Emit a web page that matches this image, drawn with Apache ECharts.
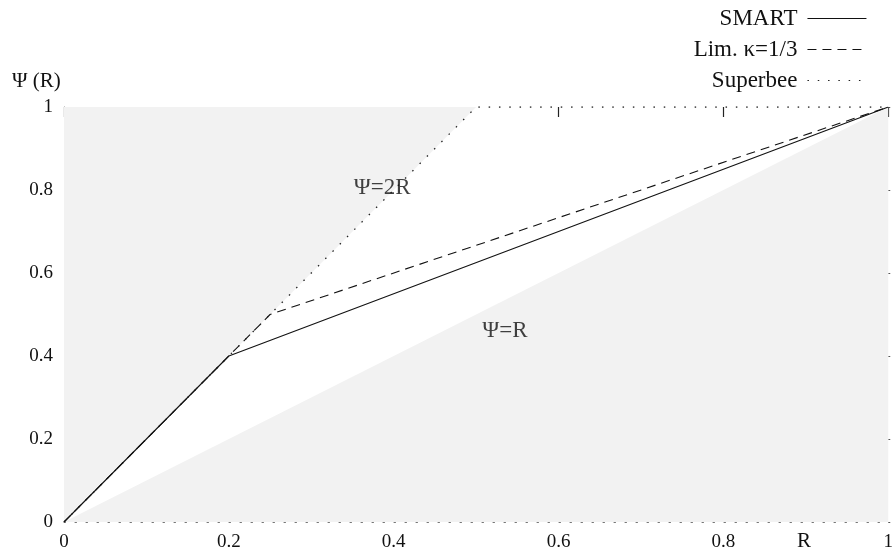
<!DOCTYPE html>
<html>
<head>
<meta charset="utf-8">
<script src="https://cdn.jsdelivr.net/npm/echarts@6/dist/echarts.min.js"></script>
<style>
  html, body { margin: 0; padding: 0; background: #fff; }
  #chart { width: 896px; height: 552px; }
</style>
</head>
<body>
<div id="chart"></div>
<script>
// Limiter curves in the (R, Psi) plane
const smartPts = [[0, 0], [0.2, 0.4], [1, 1]];
const kappaPts = [[0, 0], [0.25, 0.5], [1, 1]];
const superbeePts = [[0, 0], [0.5, 1], [1, 1]];

// Shaded regions: left of Psi = 2R (up to Psi = 1) and below Psi = R
const upperBound = [[0, 0], [0.5, 1]];
const lowerBound = [[0, 0], [1, 1]];

// Annotations placed in data coordinates
const notes = [
  { name: 'Ψ=2R', value: [0.386, 0.805] },
  { name: 'Ψ=R', value: [0.535, 0.46] }
];

const seriesNames = ['SMART', 'Lim. κ=1/3', 'Superbee'];

const serif = '"Liberation Serif", "Times New Roman", serif';
const ink = '#111';
const shade = '#f2f2f2';

const chart = echarts.init(document.getElementById('chart'), null, { renderer: 'canvas' });

chart.setOption({
  animation: false,
  backgroundColor: '#fff',
  grid: { left: 64, right: 5, top: 107, bottom: 28 },
  legend: {
    data: seriesNames,
    orient: 'vertical',
    align: 'right',
    right: 24,
    top: 2,
    itemWidth: 59,
    itemHeight: 14,
    itemGap: 8,
    itemStyle: { color: 'rgba(0,0,0,0)', borderColor: 'rgba(0,0,0,0)', borderWidth: 0 },
    lineStyle: { width: 1.1 },
    textStyle: { fontFamily: serif, fontSize: 23, color: ink, padding: [0, 5, 0, 0] }
  },
  xAxis: [
    {
      type: 'value', min: 0, max: 1, interval: 0.2, position: 'bottom',
      axisLine: { show: true, onZero: false, lineStyle: { color: '#777', width: 1, type: [1.5, 9.5] } },
      axisTick: { show: false },
      splitLine: { show: false },
      axisLabel: { fontFamily: serif, fontSize: 19, color: ink, margin: 11 }
    },
    {
      type: 'value', min: 0, max: 1, interval: 0.2, position: 'top',
      axisLine: { show: false, onZero: false },
      axisTick: { show: true, inside: true, length: 10, lineStyle: { color: '#222', width: 1.2 } },
      splitLine: { show: false },
      axisLabel: { show: false }
    }
  ],
  yAxis: [
    {
      type: 'value', min: 0, max: 1, interval: 0.2, position: 'left',
      axisLine: { show: true, onZero: false, lineStyle: { color: '#777', width: 1, type: [1.5, 4.5] } },
      axisTick: { show: false },
      splitLine: { show: false },
      axisLabel: { fontFamily: serif, fontSize: 19, color: ink, margin: 11 }
    },
    {
      type: 'value', min: 0, max: 1, interval: 0.2, position: 'right',
      axisLine: { show: false, onZero: false },
      axisTick: { show: true, inside: false, length: 2, lineStyle: { color: '#555', width: 1 } },
      splitLine: { show: false },
      axisLabel: { show: false }
    }
  ],
  graphic: [
    { type: 'text', left: 12, top: 71, style: { text: 'Ψ (R)', font: '21px ' + serif, fill: ink } },
    { type: 'text', left: 797, top: 531, style: { text: 'R', font: '21px ' + serif, fill: ink } }
  ],
  series: [
    {
      type: 'line', data: upperBound, symbol: 'none', silent: true, z: 1,
      lineStyle: { width: 0 },
      areaStyle: { color: shade, opacity: 1, origin: 'end' }
    },
    {
      type: 'line', data: lowerBound, symbol: 'none', silent: true, z: 1,
      lineStyle: { width: 0 },
      areaStyle: { color: shade, opacity: 1, origin: 'start' }
    },
    {
      name: seriesNames[0], type: 'line', data: smartPts, symbol: 'none', z: 5,
      lineStyle: { color: ink, width: 1.1, type: 'solid' }
    },
    {
      name: seriesNames[1], type: 'line', data: kappaPts, symbol: 'none', z: 4,
      lineStyle: { color: ink, width: 1.1, type: [9, 6] }
    },
    {
      name: seriesNames[2], type: 'line', data: superbeePts, symbol: 'none', z: 4,
      lineStyle: { color: '#222', width: 1.3, type: [1.5, 8.8] }
    },
    {
      type: 'scatter', data: notes, symbol: 'circle', symbolSize: 1, z: 6, silent: true,
      itemStyle: { color: 'rgba(0,0,0,0)' },
      label: {
        show: true, position: 'inside', formatter: p => p.name,
        fontFamily: serif, fontSize: 23, color: ink
      }
    }
  ]
});
</script>
</body>
</html>
